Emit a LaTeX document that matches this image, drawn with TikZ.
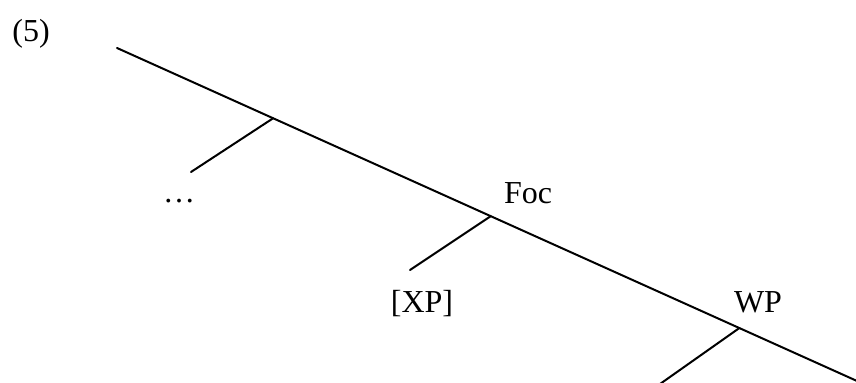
\documentclass[tikz,border=0pt]{standalone}
\usepackage{fontspec}
\setmainfont{Liberation Serif}
\usepackage{tikz}
\usetikzlibrary{calc}
\tikzset{
    lbl/.style={anchor=base,inner sep=0pt,font=\fontsize{16}{19}\selectfont},
    branch/.style={line width=1pt,line cap=round},
}

\begin{document}
\begin{tikzpicture}[x=0.5pt,y=-0.5pt]
        \useasboundingbox (0,0) rectangle (856,383);
        \node[lbl] (ex) at (31,42) {(5)};

        \coordinate (top) at (117,48);
        \coordinate (bot) at (857,381);
        \coordinate (b1) at ($(top)!0.211!(bot)$);
        \coordinate (b2) at ($(top)!0.505!(bot)$);
        \coordinate (b3) at ($(top)!0.841!(bot)$);
        \draw[branch] (top) -- (bot);

        \coordinate (l1) at (191,172);
        \draw[branch] (b1) -- (l1);
        \node[lbl] (dots) at (179,203) {…};

        \node[lbl] (foc) at (528,204) {Foc};
        \coordinate (l2) at (410,270);
        \draw[branch] (b2) -- (l2);
        \node[lbl] (xp) at (422,313) {[XP]};

        \node[lbl] (wp) at (758,313) {WP};
        \coordinate (l3) at (660,384);
        \draw[branch] (b3) -- (l3);
\end{tikzpicture}
\end{document}
